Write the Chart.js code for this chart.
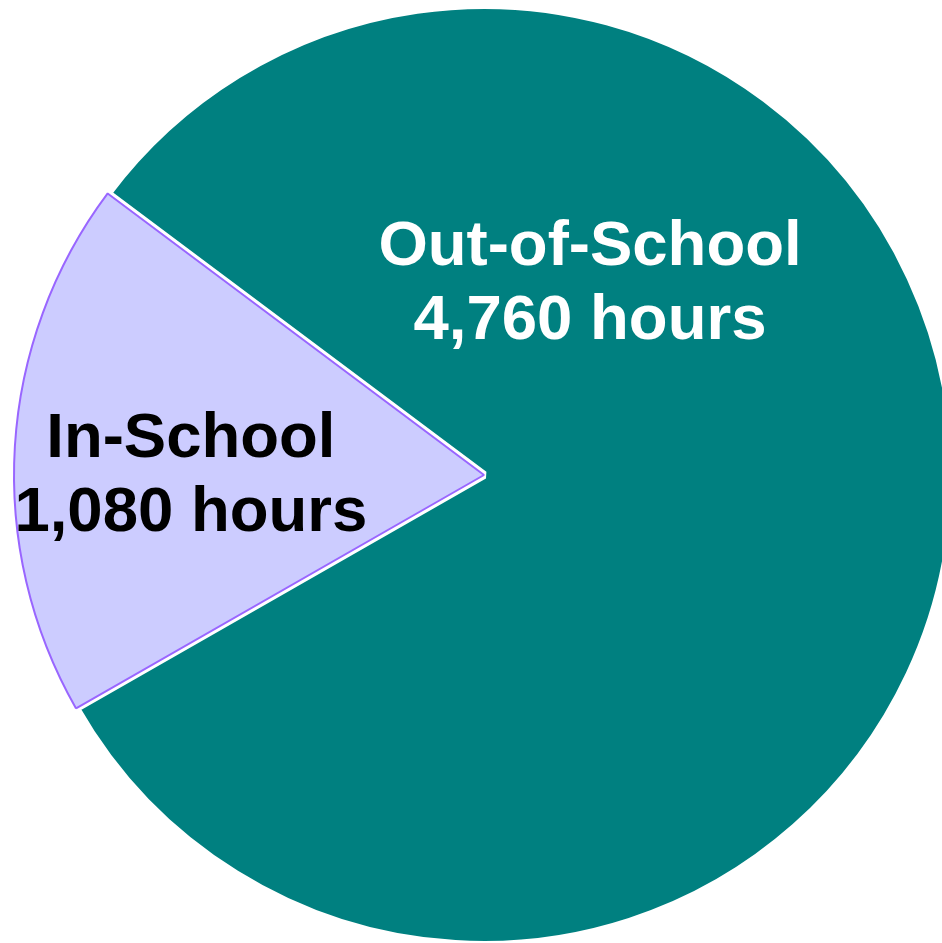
<!DOCTYPE html>
<html>
<head>
<meta charset="utf-8">
<script src="https://cdn.jsdelivr.net/npm/chart.js@4"></script>
<style>
  html, body { margin: 0; padding: 0; background: #fff; overflow: hidden; }
  #wrap { width: 942px; height: 943px; }
</style>
</head>
<body>
<div id="wrap"><canvas id="pieChart" width="942" height="943"></canvas></div>
<script>
// DATA
const categories = ["Out-of-School", "In-School"];
const hours = [4760, 1080];
const sliceColors = ["#008080", "#ccccff"];
const labelColors = ["#ffffff", "#000000"];

// label anchors as (dx, dy) from the pie centre, in units of radius
const labelSpots = [[0.226, -0.426], [-0.625, -0.017]];

const pieLabels = {
  id: "pieLabels",
  afterDatasetsDraw(chart) {
    const ctx = chart.ctx;
    const arcs = chart.getDatasetMeta(0).data;
    ctx.save();
    ctx.font = "bold 63.5px 'Liberation Sans', Arial, sans-serif";
    ctx.textAlign = "center";
    ctx.textBaseline = "alphabetic";
    arcs.forEach((arc, i) => {
      const r = 469;
      const x = arc.x + labelSpots[i][0] * r;
      const y = arc.y + labelSpots[i][1] * r;
      ctx.fillStyle = labelColors[i];
      ctx.fillText(categories[i], x, y - 10);
      ctx.fillText(hours[i].toLocaleString("en-US") + " hours", x, y + 64);
    });
    ctx.restore();
  }
};

// PIE CHART
new Chart(document.getElementById("pieChart"), {
  type: "pie",
  data: {
    labels: categories,
    datasets: [{
      data: hours,
      backgroundColor: sliceColors,
      borderColor: ["#ffffff", "#9966ff"],
      borderWidth: [8, 2],
      radius: 470,
      clip: false
    }]
  },
  options: {
    responsive: false,
    animation: false,
    events: [],
    rotation: 306.8,
    layout: { padding: { left: 26, right: 0, top: 7, bottom: 0 } },
    plugins: {
      legend: { display: false },
      tooltip: { enabled: false }
    }
  },
  plugins: [pieLabels]
});
</script>
</body>
</html>
